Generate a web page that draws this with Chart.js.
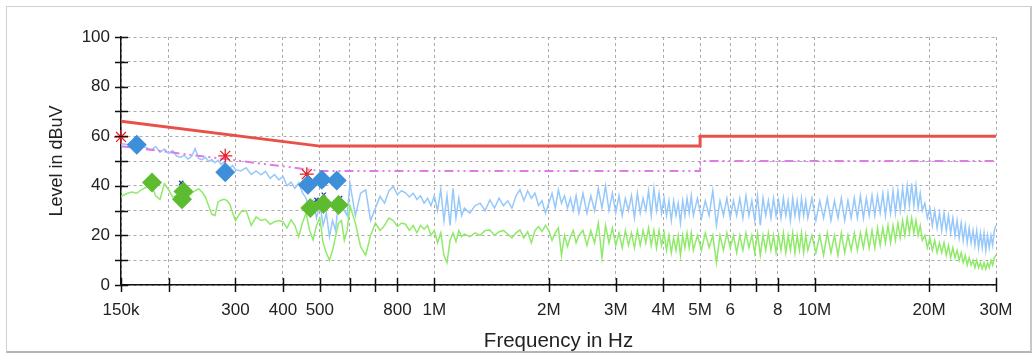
<!DOCTYPE html>
<html><head><meta charset="utf-8">
<script src="https://cdn.jsdelivr.net/npm/chart.js@4.4.1/dist/chart.umd.min.js"></script>
<style>
html,body{margin:0;padding:0;background:#fff;}
#wrap{position:relative;width:1035px;height:356px;overflow:hidden;background:#fff;}
#frame{position:absolute;left:6px;top:6px;width:1023px;height:344px;border:1px solid #d0d0d0;border-bottom:2px solid #b4b4b4;border-right:2px solid #c8c8c8;pointer-events:none;}
canvas{position:absolute;left:0;top:0;}
</style></head><body>
<div id="wrap"><canvas id="c" width="1035" height="356"></canvas><div id="frame"></div></div>
<script>
// ---- axis ticks (kHz) ----
const xTickVals = [150,200,300,400,500,600,700,800,1000,2000,3000,4000,5000,6000,7000,8000,10000,20000,30000];
const xTickLabels = ['150k','','300','400','500','','','800','1M','2M','3M','4M','5M','6','','8','10M','20M','30M'];

// ---- sweep frequencies (kHz) ----
const freqKHz = [
150,155,160,165,170,175,180,185,190,195,200,205,210,215,220,225,230,235,240,245,250,255,260,265,270,275,280,285,290,295,300,
310,320,330,340,350,360,370,380,390,400,410,420,430,440,450,460,470,480,490,500,510,520,530,540,550,560,570,580,590,600,
620,640,660,680,700,720,740,760,780,800,820,840,860,880,900,920,940,960,980,1000,1020,1040,1060,1080,1100,1120,1140,1160,1180,1200,
1240,1280,1320,1360,1400,1440,1480,1520,1560,1600,1640,1680,1720,1760,1800,1840,1880,1920,1960,2000,2040,2080,2120,2160,2200,2240,2280,2320,2360,2400,
2460,2520,2580,2640,2700,2760,2820,2880,2940,3000,3060,3120,3180,3240,3300,3360,3420,3480,3540,3600,3660,3720,3780,3840,3900,3960,4020,4080,4140,4200,4260,4320,4380,4440,4500,4560,4620,4680,4740,4800,
4920,5040,5160,5280,5400,5520,5640,5760,5880,6000,6120,6240,6360,6480,6600,6720,6840,6960,7080,7200,7320,7440,7560,7680,7800,7920,8040,8160,8280,8400,8520,8640,8760,8880,9000,9120,9240,9360,9480,9600,
9840,10080,10320,10560,10800,11040,11280,11520,11760,12000,12240,12480,12720,12960,13200,13440,13680,13920,14160,14400,14640,14880,15120,15360,15600,15840,16080,16320,16560,16800,17040,17280,17520,17760,18000,18240,18480,18720,18960,19200,
19500,19800,20100,20400,20700,21000,21300,21600,21900,22200,22500,22800,23100,23400,23700,24000,24300,24600,24900,25200,25500,25800,26100,26400,26700,27000,27300,27600,27900,28200,28500,28800,29100,29400,29700,30000
];

// ---- peak trace (dBuV) ----
const peakLevel = [
57,56.8,56,55.5,56,55.4,54.5,55.8,53.5,54.8,53,54.2,52,51.5,52.3,50.8,51.8,55,51,50.5,51.5,49.8,50.6,49.3,50.3,48.6,49.5,48,47.2,48.2,46.5,
46,47.3,44.6,46,44.4,45.8,43,44.5,42.4,43.8,40,41.5,39,41.2,37.2,35,30,34,27,33,24,29,19.5,26,22,34,31,30,28,41,
28,37,38.4,26,31,35.7,33,38,39.7,36.5,38,37.2,35.5,37,34.5,36,33,35,32,36,30,38.5,26,36,24,39,27,35,28,31,
29,32,33,30,34.3,31,35,32,34,31,36,38.4,34,38,35,37,32,34,29,33,37,31,38.4,33,36,31,35,30,36,29,
37,29,36,30,39,31,40,30,37,29,36,28,35,30,36,27,37,29,35,30,38,28,39,30,37,29,35,28,34,26,34,28,33,25,34,28,35,29,36,28,
35,27,34,28,38,24,34,28,35,27,34,28,35,27,36,28,34,26,36,24,35,28,34,27,35,28,34,27,35,28,34,26,35,28,34,27,35,28,34,27,
35,26,34,27,35,26,34,27,35,26,34,27,35,27,36,27,35,28,36,28,36,29,37,28,37,29,38,29,38,30,39,31,40,32,41,32,40,31,37,30,
33,27,31,24,30,23,29,22,29,22,28,21,27,20,26,19,25,18,24,17,23,17,22,16,22,15,21,15,21,14,20,15,20,16,22,24
];

// ---- average trace (dBuV) ----
const avgLevel = [
35.7,36.8,37.5,37,38.5,39.5,40.5,36,34.5,40.8,38.5,35.5,36,37.5,33.5,35.5,37,38,38.8,37.5,35.5,32,28.5,28,33.5,34.2,34.6,34,32.5,29,26,
29.5,30,24,27.5,26,26.5,24.5,25.5,26,25.5,23,26.3,24,19.5,25,29,22,18.2,24,27,17,13,10,14,19.5,25,26,18,22,32,
25,15.4,12,20,25,22,24,27,26,23.6,25,24.5,22,24,21,24,22.5,24,20,22,17,21,12,9,18,21,17.5,22,19.5,20.5,
19.5,21,20,22,22.2,20,21.5,22,20.5,19,21,22.2,19,21.5,17,22,23.6,21.5,24,22,18,21,23,12,20,15.5,19.5,22,17,20,
22,16,22,17,25,11,24,17,23,16,21,15,22,16,21,15,22,16,22,17,23,16,22,15,22,16,21,14,20,13,19,14,20,12,20,15,21,15,21,14,
20,14,21,15,20,9,20,14,21,15,20,13,20,14,21,15,20,13,21,12,20,14,21,14,20,13,20,14,21,13,20,14,21,13,20,14,21,13,20,14,
20,13,20,12,21,13,20,12,21,13,20,14,21,14,21,15,22,15,22,15,23,16,23,17,24,17,24,18,25,19,26,20,27,21,27,21,26,20,24,18,
20,15,19,14,18,13,17,13,17,12,16,11,15,11,14,10,13,9,12,8,11,8,10,7,10,7,9,6.5,9,6.5,9,7,10,8,11,12
];

// ---- limit lines ----
const limitFreq = [150,500,5000,5000,30000];
const qpLimit = [66,56,56,60,60];
const avLimit = [56,46,46,50,50];

// ---- final measurements ----
const qpFreq = [165,282,465,506,554];
const qpLevel = [56.6,45.5,40.4,42.4,42.1];
const avFreq = [181,219,217,472,511,560];
const avLevel = [41.3,37.7,34.6,31,32.7,32.3];
const pkMarkFreq = [150,282,462];
const pkMarkLevel = [59.7,52.1,44.7];
const avMarkFreq = [216,490,512,565];
const avMarkLevel = [41.2,34.3,36.4,35];

const pts = (fs, vs) => fs.map((f, i) => ({x: f, y: vs[i]}));

const tickMarks = {
  id: 'tickMarks',
  afterDraw(chart) {
    const {ctx, chartArea: a, scales: {x, y}} = chart;
    ctx.save();
    ctx.strokeStyle = '#111';
    ctx.lineWidth = 1.5;
    ctx.beginPath();
    xTickVals.forEach(v => {
      const px = Math.round(x.getPixelForValue(v)) + 0.5;
      ctx.moveTo(px, a.bottom - 7); ctx.lineTo(px, a.bottom + 7);
    });
    y.ticks.forEach(t => {
      const py = Math.round(y.getPixelForValue(t.value)) + 0.5;
      ctx.moveTo(a.left - 6, py); ctx.lineTo(a.left + 7, py);
    });
    ctx.stroke();
    ctx.restore();
  }
};

const FONT = "'Liberation Sans', Arial, sans-serif";

new Chart(document.getElementById('c'), {
  type: 'line',
  data: {
    datasets: [
      {label: 'AV', data: pts(avFreq, avLevel), showLine: false, pointStyle: 'rectRot', pointRadius: 10, pointBackgroundColor: '#5dbb2f', pointBorderColor: '#5dbb2f', pointBorderWidth: 0, clip: false, order: 1},
      {label: 'AVmark', data: pts(avMarkFreq, avMarkLevel), showLine: false, pointStyle: 'crossRot', pointRadius: 3, pointBorderColor: '#1f3f9f', pointBorderWidth: 1.3, clip: false, order: 2},
      {label: 'QP', data: pts(qpFreq, qpLevel), showLine: false, pointStyle: 'rectRot', pointRadius: 10, pointBackgroundColor: '#3d8fd9', pointBorderColor: '#3d8fd9', pointBorderWidth: 0, clip: false, order: 3},
      {label: 'PKmark', data: pts(pkMarkFreq, pkMarkLevel), showLine: false, pointStyle: 'star', pointRadius: 7, pointBorderColor: '#e82020', pointBorderWidth: 1.3, clip: false, order: 4},
      {label: 'QP limit', data: pts(limitFreq, qpLimit), borderColor: '#e8504a', borderWidth: 3, pointRadius: 0, order: 5},
      {label: 'AV limit', data: pts(limitFreq, avLimit), borderColor: '#e07ae6', borderWidth: 2, borderDash: [9,4,2,4,2,4], pointRadius: 0, order: 6},
      {label: 'Average', data: pts(freqKHz, avgLevel), borderColor: '#90ea6a', borderWidth: 1.5, pointRadius: 0, order: 7},
      {label: 'Peak', data: pts(freqKHz, peakLevel), borderColor: '#96c8fa', borderWidth: 1.5, pointRadius: 0, order: 8}
    ]
  },
  options: {
    responsive: false,
    animation: false,
    devicePixelRatio: 1,
    layout: {padding: {left: 0, top: 37, right: 39, bottom: 0}},
    plugins: {legend: {display: false}, tooltip: {enabled: false}},
    elements: {line: {tension: 0}},
    scales: {
      x: {
        type: 'logarithmic', min: 150, max: 30000,
        afterBuildTicks: s => { s.ticks = xTickVals.map(v => ({value: v})); },
        afterFit: s => { s.height = 71; },
        ticks: {autoSkip: false, maxRotation: 0, minRotation: 0, padding: 15, color: '#222',
                font: {family: FONT, size: 17},
                callback: (v, i) => xTickLabels[i]},
        grid: {color: '#ababab', lineWidth: 1, drawTicks: false},
        border: {display: true, color: '#111', width: 1.5, dash: [3,3]},
        title: {display: true, text: 'Frequency in Hz', color: '#222', font: {family: FONT, size: 20.5}, padding: {top: 0, bottom: 2}}
      },
      y: {
        type: 'linear', min: 0, max: 100,
        afterFit: s => { s.width = 121; },
        ticks: {stepSize: 10, padding: 11, color: '#222', font: {family: FONT, size: 17},
                callback: v => (v % 20 === 0 ? String(v) : '')},
        grid: {color: '#ababab', lineWidth: 1, drawTicks: false},
        border: {display: true, color: '#111', width: 1.5, dash: [3,3]},
        title: {display: true, text: 'Level in dBuV', color: '#222', font: {family: FONT, size: 18}, padding: {top: 46, bottom: 0}}
      }
    }
  },
  plugins: [tickMarks]
});
</script>
</body></html>
